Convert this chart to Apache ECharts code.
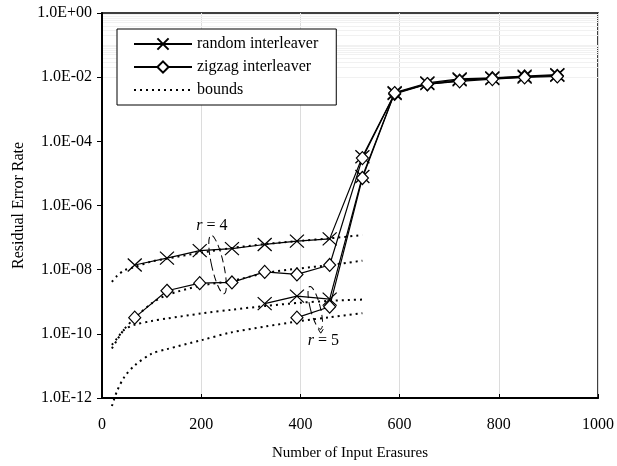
<!DOCTYPE html>
<html><head><meta charset="utf-8">
<script src="https://cdn.jsdelivr.net/npm/echarts@6/dist/echarts.min.js"></script>
<style>html,body{margin:0;padding:0;background:#fff}#c{width:617px;height:466px}</style>
</head><body><div id="c"></div>
<script>
// ---- data ----
const erasures = [66,131,197,262,328,393,459,525,590,656,721,787,852,918];
const randomR4 = [1.4e-8,2.3e-8,3.9e-8,4.5e-8,6.1e-8,7.8e-8,9.1e-8,3.3e-5,3.1e-3,6.3e-3,8.3e-3,9.0e-3,1.0e-2,1.15e-2];
const zigzagR4 = [3.2e-10,2.2e-9,3.8e-9,4.0e-9,8.5e-9,7.1e-9,1.4e-8,3.0e-5,3.0e-3,6.0e-3,7.8e-3,9.3e-3,1.05e-2,1.1e-2];
const randomR5X = [328,393,459,525,590,656,721,787,852,918];
const randomR5 = [8.7e-10,1.5e-9,1.2e-9,8.0e-6,3.3e-3,6.6e-3,8.9e-3,9.5e-3,1.08e-2,1.2e-2];
const zigzagR5X = [393,459,525,590,656,721,787,852,918];
const zigzagR5 = [3.2e-10,7.0e-10,7.2e-6,3.2e-3,6.1e-3,7.4e-3,8.7e-3,9.8e-3,1.05e-2];
const boundX = [20,30,45,65,100,130,200,260,330,400,460,525];
const boundRandomR4 = [4.2e-9,6.3e-9,9.5e-9,1.2e-8,1.8e-8,2.2e-8,3.4e-8,4.7e-8,6.3e-8,7.9e-8,9.5e-8,1.2e-7];
const boundZigzagR4 = [3.5e-11,6.3e-11,1.4e-10,3.0e-10,8.9e-10,1.6e-9,3.2e-9,4.4e-9,7.9e-9,1.1e-8,1.4e-8,1.9e-8];
const boundRandomR5 = [4.5e-11,7.1e-11,1.35e-10,1.9e-10,2.5e-10,3.0e-10,4.3e-10,5.6e-10,7.4e-10,9.3e-10,1.07e-9,1.17e-9];
const boundZigzagR5 = [5.6e-13,1.6e-12,4.5e-12,1.0e-11,2.4e-11,3.3e-11,6.3e-11,1.1e-10,1.7e-10,2.5e-10,3.3e-10,4.4e-10];
const xTicks = [0,200,400,600,800,1000];
const legendNames = ['random interleaver','zigzag interleaver','bounds'];

const FONT = '"Liberation Serif","Times New Roman",serif';
const pair = (xs, ys) => xs.map((x,i)=>[x, ys[i]]);
const xSym = 'path://M0 0L14 13M14 0L0 13';
const gridLines = [];
for (let e = -12; e < 0; e++) for (let k = 2; k <= 9; k++) gridLines.push({yAxis: k*Math.pow(10,e)});
for (let e = -11; e < 0; e++) gridLines.push({yAxis: Math.pow(10,e)});

function rnd(name, data){return {name, type:'line', data, clip:false, symbol:xSym, symbolSize:[14,13],
  lineStyle:{color:'#000',width:1.2}, itemStyle:{color:'#000',borderColor:'#000',borderWidth:1.2}, z:3};}
function zz(name, data){return {name, type:'line', data, clip:false, symbol:'diamond', symbolSize:[12,13],
  lineStyle:{color:'#000',width:1.2}, itemStyle:{color:'#fff',borderColor:'#000',borderWidth:1.2}, z:4};}
function bd(data){return {name:'bounds', type:'line', data, clip:false, symbol:'circle', showSymbol:false, smooth:0.3,
  lineStyle:{color:'#000',width:2,type:[2,4]}, itemStyle:{color:'#000'}, z:2};}

const chart = echarts.init(document.getElementById('c'), null, {renderer:'canvas'});
const series = [
  rnd('random interleaver', pair(erasures, randomR4)),
  zz('zigzag interleaver', pair(erasures, zigzagR4)),
  bd(pair(boundX, boundRandomR4)),
  rnd('random interleaver', pair(randomR5X, randomR5)),
  zz('zigzag interleaver', pair(zigzagR5X, zigzagR5)),
  bd(pair(boundX, boundZigzagR4)),
  bd(pair(boundX, boundRandomR5)),
  bd(pair(boundX, boundZigzagR5)),
];
series.push({type:'line', data:[], silent:true, z:0,
  markLine:{silent:true, z:0, symbol:'none', label:{show:false}, lineStyle:{color:'#f1f1f1',type:'solid',width:1}, data:gridLines, animation:false}});

chart.setOption({
  animation:false,
  textStyle:{fontFamily:FONT},
  grid:{left:102, right:14, top:13, bottom:62, show:true, borderColor:'#000', borderWidth:1.5, backgroundColor:'transparent'},
  legend:{data:[legendNames[0], legendNames[1], {name:legendNames[2], itemStyle:{opacity:0}}],
    orient:'vertical', left:117, top:29, width:210, z:20,
    backgroundColor:'#fff', borderColor:'#000', borderWidth:1, padding:[7,18,7,16], itemGap:7,
    itemWidth:58, itemHeight:14, textStyle:{fontFamily:FONT, fontSize:16, color:'#000'}, selectedMode:false},
  xAxis:{type:'value', min:0, max:1000, interval:200, name:'Number of Input Erasures', nameLocation:'middle', nameGap:48,
    nameTextStyle:{fontFamily:FONT, fontSize:15, color:'#000'},
    axisLine:{lineStyle:{color:'#000',width:2}}, axisTick:{inside:true,length:4,lineStyle:{color:'#000'}},
    axisLabel:{fontFamily:FONT, fontSize:16, color:'#000', margin:19,
      formatter:v=> xTicks.includes(v) ? String(v) : ''},
    splitLine:{show:true, lineStyle:{color:'#dcdcdc',width:1}}},
  yAxis:{type:'log', logBase:10, min:1e-12, max:1, interval:2, name:'Residual Error Rate', nameLocation:'middle', nameGap:70,
    nameTextStyle:{fontFamily:FONT, fontSize:16, color:'#000'},
    axisLine:{lineStyle:{color:'#000',width:2}}, axisTick:{inside:false,length:5,lineStyle:{color:'#000'}},
    axisLabel:{fontFamily:FONT, fontSize:16, color:'#000', margin:10,
      formatter:v=>{const e=Math.round(Math.log10(v)); return '1.0E'+(e<0?'-':'+')+String(Math.abs(e)).padStart(2,'0');}},
    splitLine:{show:false}},
  series
});

function px(x, y){return chart.convertToPixel({gridIndex:0}, [x, y]);}
const a4 = px(190, Math.pow(10,-6.63));
const e4 = px(233, Math.pow(10,-7.84));
const e5 = px(430, Math.pow(10,-9.19));
const a5 = px(415, Math.pow(10,-10.21));
const v5 = px(441, Math.pow(10,-9.98));
chart.setOption({graphic:[
  {type:'text', x:a4[0], y:a4[1], style:{text:'{i|r} = 4', verticalAlign:'middle', align:'left', font:'16px '+FONT, fill:'#000',
    rich:{i:{fontStyle:'italic', fontFamily:FONT, fontSize:16}}}},
  {type:'ellipse', x:e4[0], y:e4[1], rotation:0.22, shape:{cx:0,cy:0,rx:6,ry:30}, style:{fill:'none',stroke:'#000',lineWidth:1,lineDash:[7,4]}, z:10},
  {type:'ellipse', x:e5[0], y:e5[1], rotation:0.25, shape:{cx:0,cy:0,rx:5,ry:22}, style:{fill:'none',stroke:'#000',lineWidth:1,lineDash:[7,4]}, z:10},
  {type:'polyline', x:v5[0], y:v5[1], shape:{points:[[-2.5,-4],[0,0],[2.5,-4]]}, style:{stroke:'#000',fill:'none',lineWidth:1}, z:10},
  {type:'text', x:a5[0], y:a5[1], style:{text:'{i|r} = 5', verticalAlign:'middle', align:'left', font:'16px '+FONT, fill:'#000',
    rich:{i:{fontStyle:'italic', fontFamily:FONT, fontSize:16}}}}
]});
</script></body></html>
